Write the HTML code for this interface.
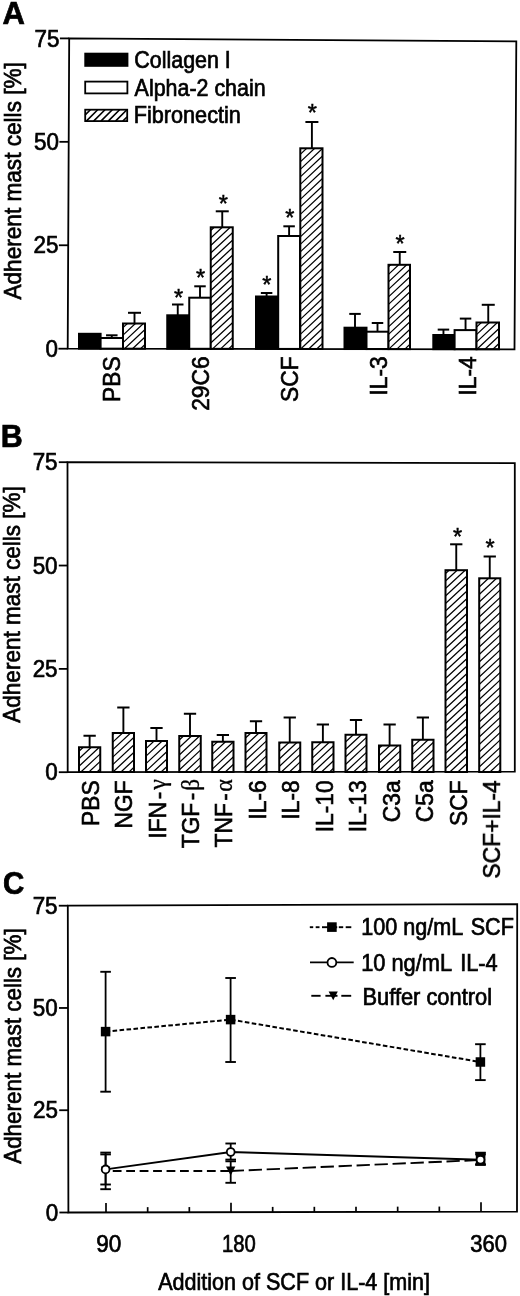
<!DOCTYPE html>
<html><head><meta charset="utf-8"><title>Figure</title>
<style>html,body{margin:0;padding:0;background:#fff}svg{display:block}text{font-family:"Liberation Sans",sans-serif;fill:#000;stroke:#000;stroke-width:0.7px}</style>
</head><body>
<svg width="520" height="1296" viewBox="0 0 520 1296">
<rect width="520" height="1296" fill="#fff"/>
<filter id="soft" x="0" y="0" width="520" height="1296" filterUnits="userSpaceOnUse"><feGaussianBlur stdDeviation="0.38"/></filter>
<g filter="url(#soft)">

<text transform="translate(2.40 24.20) scale(0.97 1)" font-size="31.95" text-anchor="start" font-weight="bold" >A</text>
<line x1="59.90" y1="38.40" x2="69.20" y2="38.40" stroke="#000" stroke-width="1.8" />
<text transform="translate(59.50 46.60) scale(0.94 1)" font-size="23.86" text-anchor="end" >75</text>
<line x1="59.40" y1="141.83" x2="68.70" y2="141.83" stroke="#000" stroke-width="1.8" />
<text transform="translate(59.00 150.03) scale(0.94 1)" font-size="23.86" text-anchor="end" >50</text>
<line x1="58.90" y1="245.27" x2="68.20" y2="245.27" stroke="#000" stroke-width="1.8" />
<text transform="translate(58.50 253.47) scale(0.94 1)" font-size="23.86" text-anchor="end" >25</text>
<line x1="58.40" y1="348.70" x2="67.70" y2="348.70" stroke="#000" stroke-width="1.8" />
<text transform="translate(58.00 356.90) scale(0.94 1)" font-size="23.86" text-anchor="end" >0</text>
<text transform="translate(20.70 299.60) rotate(-90)" font-size="24.31" text-anchor="start" textLength="237.5" lengthAdjust="spacingAndGlyphs" >Adherent mast cells [%]</text>
<rect x="84.3" y="52.7" width="44.1" height="14.1" fill="#000"/>
<rect x="85.2" y="81.6" width="42.2" height="11.8" fill="#fff" stroke="#000" stroke-width="1.8"/>
<rect x="85.2" y="109.7" width="42.0" height="11.4" fill="#fff" stroke="#000" stroke-width="1.8"/>
<path d="M85.20,114.90L90.40,109.70M86.30,121.10L97.70,109.70M93.60,121.10L105.00,109.70M100.90,121.10L112.30,109.70M108.20,121.10L119.60,109.70M115.50,121.10L126.90,109.70M122.80,121.10L127.20,116.70" stroke="#000" stroke-width="1.6" fill="none"/>
<text transform="translate(134.30 68.10)" font-size="23.43" text-anchor="start" textLength="96.5" lengthAdjust="spacingAndGlyphs" >Collagen I</text>
<text transform="translate(134.60 95.70)" font-size="23.43" text-anchor="start" textLength="131.0" lengthAdjust="spacingAndGlyphs" >Alpha-2 chain</text>
<text transform="translate(133.80 123.00)" font-size="23.43" text-anchor="start" textLength="107.0" lengthAdjust="spacingAndGlyphs" >Fibronectin</text>
<rect x="79.00" y="333.80" width="21.60" height="14.82" fill="#000" stroke="#000" stroke-width="2.0"/>
<line x1="111.80" y1="338.00" x2="111.80" y2="335.30" stroke="#000" stroke-width="1.9" />
<line x1="106.05" y1="335.30" x2="117.55" y2="335.30" stroke="#000" stroke-width="2.0" />
<rect x="100.60" y="338.00" width="22.40" height="10.65" fill="#fff" stroke="#000" stroke-width="2.0"/>
<line x1="134.50" y1="323.50" x2="134.50" y2="312.80" stroke="#000" stroke-width="1.9" />
<line x1="128.00" y1="312.80" x2="141.00" y2="312.80" stroke="#000" stroke-width="2.0" />
<rect x="123.00" y="323.50" width="22.00" height="25.19" fill="#fff" stroke="#000" stroke-width="2.0"/>
<path d="M123.00,327.60L127.38,323.50M123.00,335.10L135.40,323.50M123.00,342.60L143.42,323.50M124.51,348.69L145.00,329.52M132.53,348.69L145.00,337.02M140.55,348.69L145.00,344.52" stroke="#000" stroke-width="1.2" fill="none"/>
<line x1="177.75" y1="315.30" x2="177.75" y2="304.50" stroke="#000" stroke-width="1.9" />
<line x1="172.00" y1="304.50" x2="183.50" y2="304.50" stroke="#000" stroke-width="2.0" />
<rect x="167.25" y="315.30" width="22.00" height="33.46" fill="#000" stroke="#000" stroke-width="2.0"/>
<text x="178.60" y="305.50" font-size="23.5" text-anchor="middle" style="stroke-width:0.5px">*</text>
<line x1="200.00" y1="297.70" x2="200.00" y2="286.30" stroke="#000" stroke-width="1.9" />
<line x1="194.25" y1="286.30" x2="205.75" y2="286.30" stroke="#000" stroke-width="2.0" />
<rect x="189.25" y="297.70" width="21.50" height="51.09" fill="#fff" stroke="#000" stroke-width="2.0"/>
<text x="200.60" y="285.90" font-size="23.5" text-anchor="middle" style="stroke-width:0.5px">*</text>
<line x1="222.25" y1="227.30" x2="222.25" y2="211.30" stroke="#000" stroke-width="1.9" />
<line x1="215.75" y1="211.30" x2="228.75" y2="211.30" stroke="#000" stroke-width="2.0" />
<rect x="210.75" y="227.30" width="22.00" height="121.53" fill="#fff" stroke="#000" stroke-width="2.0"/>
<path d="M210.75,230.55L214.22,227.30M210.75,238.05L222.25,227.30M210.75,245.55L230.27,227.30M210.75,253.05L232.75,232.48M210.75,260.55L232.75,239.98M210.75,268.05L232.75,247.48M210.75,275.55L232.75,254.98M210.75,283.05L232.75,262.48M210.75,290.55L232.75,269.98M210.75,298.05L232.75,277.48M210.75,305.55L232.75,284.98M210.75,313.05L232.75,292.48M210.75,320.55L232.75,299.98M210.75,328.05L232.75,307.48M210.75,335.55L232.75,314.98M210.75,343.05L232.75,322.48M212.59,348.83L232.75,329.98M220.61,348.83L232.75,337.48M228.64,348.83L232.75,344.98" stroke="#000" stroke-width="1.2" fill="none"/>
<text x="223.40" y="211.50" font-size="23.5" text-anchor="middle" style="stroke-width:0.5px">*</text>
<line x1="266.60" y1="296.50" x2="266.60" y2="293.00" stroke="#000" stroke-width="1.9" />
<line x1="260.85" y1="293.00" x2="272.35" y2="293.00" stroke="#000" stroke-width="2.0" />
<rect x="256.00" y="296.50" width="22.20" height="52.39" fill="#000" stroke="#000" stroke-width="2.0"/>
<text x="266.90" y="292.60" font-size="23.5" text-anchor="middle" style="stroke-width:0.5px">*</text>
<line x1="289.10" y1="236.00" x2="289.10" y2="226.30" stroke="#000" stroke-width="1.9" />
<line x1="283.35" y1="226.30" x2="294.85" y2="226.30" stroke="#000" stroke-width="2.0" />
<rect x="278.20" y="236.00" width="21.80" height="112.93" fill="#fff" stroke="#000" stroke-width="2.0"/>
<text x="289.90" y="225.90" font-size="23.5" text-anchor="middle" style="stroke-width:0.5px">*</text>
<line x1="311.90" y1="148.30" x2="311.90" y2="122.00" stroke="#000" stroke-width="1.9" />
<line x1="305.40" y1="122.00" x2="318.40" y2="122.00" stroke="#000" stroke-width="2.0" />
<rect x="300.30" y="148.30" width="22.20" height="200.67" fill="#fff" stroke="#000" stroke-width="2.0"/>
<path d="M300.30,154.32L306.74,148.30M300.30,161.82L314.76,148.30M300.30,169.32L322.50,148.56M300.30,176.82L322.50,156.06M300.30,184.32L322.50,163.56M300.30,191.82L322.50,171.06M300.30,199.32L322.50,178.56M300.30,206.82L322.50,186.06M300.30,214.32L322.50,193.56M300.30,221.82L322.50,201.06M300.30,229.32L322.50,208.56M300.30,236.82L322.50,216.06M300.30,244.32L322.50,223.56M300.30,251.82L322.50,231.06M300.30,259.32L322.50,238.56M300.30,266.82L322.50,246.06M300.30,274.32L322.50,253.56M300.30,281.82L322.50,261.06M300.30,289.32L322.50,268.56M300.30,296.82L322.50,276.06M300.30,304.32L322.50,283.56M300.30,311.82L322.50,291.06M300.30,319.32L322.50,298.56M300.30,326.82L322.50,306.06M300.30,334.32L322.50,313.56M300.30,341.82L322.50,321.06M300.68,348.97L322.50,328.56M308.70,348.97L322.50,336.06M316.72,348.97L322.50,343.56" stroke="#000" stroke-width="1.2" fill="none"/>
<text x="312.40" y="121.30" font-size="23.5" text-anchor="middle" style="stroke-width:0.5px">*</text>
<line x1="355.00" y1="327.70" x2="355.00" y2="313.90" stroke="#000" stroke-width="1.9" />
<line x1="349.25" y1="313.90" x2="360.75" y2="313.90" stroke="#000" stroke-width="2.0" />
<rect x="344.50" y="327.70" width="22.00" height="21.33" fill="#000" stroke="#000" stroke-width="2.0"/>
<line x1="377.50" y1="331.70" x2="377.50" y2="323.00" stroke="#000" stroke-width="1.9" />
<line x1="371.75" y1="323.00" x2="383.25" y2="323.00" stroke="#000" stroke-width="2.0" />
<rect x="366.50" y="331.70" width="22.00" height="17.37" fill="#fff" stroke="#000" stroke-width="2.0"/>
<line x1="399.75" y1="264.80" x2="399.75" y2="252.00" stroke="#000" stroke-width="1.9" />
<line x1="393.25" y1="252.00" x2="406.25" y2="252.00" stroke="#000" stroke-width="2.0" />
<rect x="388.50" y="264.80" width="21.50" height="84.30" fill="#fff" stroke="#000" stroke-width="2.0"/>
<path d="M388.50,266.85L390.70,264.80M388.50,274.35L398.72,264.80M388.50,281.85L406.74,264.80M388.50,289.35L410.00,269.25M388.50,296.85L410.00,276.75M388.50,304.35L410.00,284.25M388.50,311.85L410.00,291.75M388.50,319.35L410.00,299.25M388.50,326.85L410.00,306.75M388.50,334.35L410.00,314.25M388.50,341.85L410.00,321.75M388.77,349.10L410.00,329.25M396.79,349.10L410.00,336.75M404.81,349.10L410.00,344.25" stroke="#000" stroke-width="1.2" fill="none"/>
<text x="400.20" y="252.10" font-size="23.5" text-anchor="middle" style="stroke-width:0.5px">*</text>
<line x1="443.45" y1="335.00" x2="443.45" y2="329.60" stroke="#000" stroke-width="1.9" />
<line x1="437.70" y1="329.60" x2="449.20" y2="329.60" stroke="#000" stroke-width="2.0" />
<rect x="433.30" y="335.00" width="21.30" height="14.17" fill="#000" stroke="#000" stroke-width="2.0"/>
<line x1="465.55" y1="330.10" x2="465.55" y2="318.60" stroke="#000" stroke-width="1.9" />
<line x1="459.80" y1="318.60" x2="471.30" y2="318.60" stroke="#000" stroke-width="2.0" />
<rect x="454.60" y="330.10" width="21.90" height="19.11" fill="#fff" stroke="#000" stroke-width="2.0"/>
<line x1="488.25" y1="322.50" x2="488.25" y2="304.80" stroke="#000" stroke-width="1.9" />
<line x1="481.75" y1="304.80" x2="494.75" y2="304.80" stroke="#000" stroke-width="2.0" />
<rect x="476.50" y="322.50" width="22.50" height="26.74" fill="#fff" stroke="#000" stroke-width="2.0"/>
<path d="M476.50,327.07L481.39,322.50M476.50,334.57L489.41,322.50M476.50,342.07L497.43,322.50M476.85,349.24L499.00,328.53M484.88,349.24L499.00,336.03M492.90,349.24L499.00,343.53" stroke="#000" stroke-width="1.2" fill="none"/>
<polygon points="69.20,38.40 516.30,41.40 514.50,349.30 67.70,348.70" fill="none" stroke="#000" stroke-width="1.8" stroke-linejoin="miter"/>
<text transform="translate(120.00 356.30) rotate(-90) scale(0.93 1)" font-size="24.53" text-anchor="end" style="stroke-width:0.65px">PBS</text>
<text transform="translate(208.80 356.30) rotate(-90) scale(0.93 1)" font-size="24.53" text-anchor="end" style="stroke-width:0.65px">29C6</text>
<text transform="translate(298.00 356.30) rotate(-90) scale(0.93 1)" font-size="24.53" text-anchor="end" style="stroke-width:0.65px">SCF</text>
<text transform="translate(386.80 356.30) rotate(-90) scale(0.93 1)" font-size="24.53" text-anchor="end" style="stroke-width:0.65px">IL-3</text>
<text transform="translate(475.60 356.30) rotate(-90) scale(0.93 1)" font-size="24.53" text-anchor="end" style="stroke-width:0.65px">IL-4</text>
<text transform="translate(0.80 447.30) scale(0.97 1)" font-size="31.42" text-anchor="start" font-weight="bold" >B</text>
<line x1="58.80" y1="462.20" x2="67.60" y2="462.20" stroke="#000" stroke-width="1.8" />
<text transform="translate(57.60 470.40) scale(0.94 1)" font-size="23.86" text-anchor="end" >75</text>
<line x1="58.80" y1="565.53" x2="67.60" y2="565.53" stroke="#000" stroke-width="1.8" />
<text transform="translate(57.60 573.73) scale(0.94 1)" font-size="23.86" text-anchor="end" >50</text>
<line x1="58.80" y1="668.87" x2="67.60" y2="668.87" stroke="#000" stroke-width="1.8" />
<text transform="translate(57.60 677.07) scale(0.94 1)" font-size="23.86" text-anchor="end" >25</text>
<line x1="58.80" y1="772.20" x2="67.60" y2="772.20" stroke="#000" stroke-width="1.8" />
<text transform="translate(57.60 780.40) scale(0.94 1)" font-size="23.86" text-anchor="end" >0</text>
<text transform="translate(20.00 722.70) rotate(-90)" font-size="24.31" text-anchor="start" textLength="236.5" lengthAdjust="spacingAndGlyphs" >Adherent mast cells [%]</text>
<line x1="89.62" y1="747.25" x2="89.62" y2="735.75" stroke="#000" stroke-width="1.9" />
<line x1="83.47" y1="735.75" x2="95.78" y2="735.75" stroke="#000" stroke-width="2.0" />
<rect x="79.00" y="747.25" width="21.25" height="24.75" fill="#fff" stroke="#000" stroke-width="2.0"/>
<path d="M79.00,751.24L83.26,747.25M79.00,758.74L91.28,747.25M79.00,766.24L99.30,747.25M80.86,772.00L100.25,753.87M88.88,772.00L100.25,761.37M96.90,772.00L100.25,768.87" stroke="#000" stroke-width="1.2" fill="none"/>
<line x1="123.38" y1="733.00" x2="123.38" y2="707.50" stroke="#000" stroke-width="1.9" />
<line x1="117.22" y1="707.50" x2="129.53" y2="707.50" stroke="#000" stroke-width="2.0" />
<rect x="112.75" y="733.00" width="21.25" height="39.00" fill="#fff" stroke="#000" stroke-width="2.0"/>
<path d="M112.75,734.68L114.55,733.00M112.75,742.18L122.57,733.00M112.75,749.68L130.59,733.00M112.75,757.18L134.00,737.31M112.75,764.68L134.00,744.81M112.94,772.00L134.00,752.31M120.96,772.00L134.00,759.81M128.98,772.00L134.00,767.31" stroke="#000" stroke-width="1.2" fill="none"/>
<line x1="156.50" y1="741.00" x2="156.50" y2="728.00" stroke="#000" stroke-width="1.9" />
<line x1="150.35" y1="728.00" x2="162.65" y2="728.00" stroke="#000" stroke-width="2.0" />
<rect x="146.00" y="741.00" width="21.00" height="31.00" fill="#fff" stroke="#000" stroke-width="2.0"/>
<path d="M146.00,748.59L154.12,741.00M146.00,756.09L162.14,741.00M146.00,763.59L167.00,743.96M146.00,771.09L167.00,751.46M153.05,772.00L167.00,758.96M161.07,772.00L167.00,766.46" stroke="#000" stroke-width="1.2" fill="none"/>
<line x1="190.00" y1="736.00" x2="190.00" y2="713.75" stroke="#000" stroke-width="1.9" />
<line x1="183.85" y1="713.75" x2="196.15" y2="713.75" stroke="#000" stroke-width="2.0" />
<rect x="179.25" y="736.00" width="21.50" height="36.00" fill="#fff" stroke="#000" stroke-width="2.0"/>
<path d="M179.25,740.00L183.53,736.00M179.25,747.50L191.55,736.00M179.25,755.00L199.57,736.00M179.25,762.50L200.75,742.40M179.25,770.00L200.75,749.90M185.13,772.00L200.75,757.40M193.16,772.00L200.75,764.90" stroke="#000" stroke-width="1.2" fill="none"/>
<line x1="222.88" y1="741.75" x2="222.88" y2="735.00" stroke="#000" stroke-width="1.9" />
<line x1="216.72" y1="735.00" x2="229.03" y2="735.00" stroke="#000" stroke-width="2.0" />
<rect x="212.25" y="741.75" width="21.25" height="30.25" fill="#fff" stroke="#000" stroke-width="2.0"/>
<path d="M212.25,746.65L217.49,741.75M212.25,754.15L225.51,741.75M212.25,761.65L233.50,741.78M212.25,769.15L233.50,749.28M217.22,772.00L233.50,756.78M225.24,772.00L233.50,764.28M233.26,772.00L233.50,771.78" stroke="#000" stroke-width="1.2" fill="none"/>
<line x1="256.00" y1="733.00" x2="256.00" y2="721.25" stroke="#000" stroke-width="1.9" />
<line x1="249.85" y1="721.25" x2="262.15" y2="721.25" stroke="#000" stroke-width="2.0" />
<rect x="245.50" y="733.00" width="21.00" height="39.00" fill="#fff" stroke="#000" stroke-width="2.0"/>
<path d="M245.50,738.06L250.91,733.00M245.50,745.56L258.93,733.00M245.50,753.06L266.50,733.42M245.50,760.56L266.50,740.92M245.50,768.06L266.50,748.42M249.30,772.00L266.50,755.92M257.33,772.00L266.50,763.42M265.35,772.00L266.50,770.92" stroke="#000" stroke-width="1.2" fill="none"/>
<line x1="289.75" y1="742.50" x2="289.75" y2="717.50" stroke="#000" stroke-width="1.9" />
<line x1="283.60" y1="717.50" x2="295.90" y2="717.50" stroke="#000" stroke-width="2.0" />
<rect x="279.25" y="742.50" width="21.00" height="29.50" fill="#fff" stroke="#000" stroke-width="2.0"/>
<path d="M279.25,744.00L280.86,742.50M279.25,751.50L288.88,742.50M279.25,759.00L296.90,742.50M279.25,766.50L300.25,746.87M281.39,772.00L300.25,754.37M289.41,772.00L300.25,761.87M297.43,772.00L300.25,769.37" stroke="#000" stroke-width="1.2" fill="none"/>
<line x1="322.88" y1="742.25" x2="322.88" y2="724.50" stroke="#000" stroke-width="1.9" />
<line x1="316.73" y1="724.50" x2="329.02" y2="724.50" stroke="#000" stroke-width="2.0" />
<rect x="312.25" y="742.25" width="21.25" height="29.75" fill="#fff" stroke="#000" stroke-width="2.0"/>
<path d="M312.25,743.15L313.21,742.25M312.25,750.65L321.23,742.25M312.25,758.15L329.25,742.25M312.25,765.65L333.50,745.78M313.48,772.00L333.50,753.28M321.50,772.00L333.50,760.78M329.52,772.00L333.50,768.28" stroke="#000" stroke-width="1.2" fill="none"/>
<line x1="356.00" y1="734.75" x2="356.00" y2="720.00" stroke="#000" stroke-width="1.9" />
<line x1="349.85" y1="720.00" x2="362.15" y2="720.00" stroke="#000" stroke-width="2.0" />
<rect x="345.50" y="734.75" width="21.00" height="37.25" fill="#fff" stroke="#000" stroke-width="2.0"/>
<path d="M345.50,742.06L353.32,734.75M345.50,749.56L361.34,734.75M345.50,757.06L366.50,737.42M345.50,764.56L366.50,744.92M345.56,772.00L366.50,752.42M353.58,772.00L366.50,759.92M361.60,772.00L366.50,767.42" stroke="#000" stroke-width="1.2" fill="none"/>
<line x1="389.62" y1="745.50" x2="389.62" y2="724.50" stroke="#000" stroke-width="1.9" />
<line x1="383.48" y1="724.50" x2="395.77" y2="724.50" stroke="#000" stroke-width="2.0" />
<rect x="379.00" y="745.50" width="21.25" height="26.50" fill="#fff" stroke="#000" stroke-width="2.0"/>
<path d="M379.00,748.23L381.93,745.50M379.00,755.73L389.95,745.50M379.00,763.23L397.97,745.50M379.00,770.73L400.25,750.87M385.67,772.00L400.25,758.37M393.69,772.00L400.25,765.87" stroke="#000" stroke-width="1.2" fill="none"/>
<line x1="422.88" y1="739.75" x2="422.88" y2="717.50" stroke="#000" stroke-width="1.9" />
<line x1="416.73" y1="717.50" x2="429.02" y2="717.50" stroke="#000" stroke-width="2.0" />
<rect x="412.25" y="739.75" width="21.25" height="32.25" fill="#fff" stroke="#000" stroke-width="2.0"/>
<path d="M412.25,747.15L420.16,739.75M412.25,754.65L428.18,739.75M412.25,762.15L433.50,742.28M412.25,769.65L433.50,749.78M417.75,772.00L433.50,757.28M425.78,772.00L433.50,764.78" stroke="#000" stroke-width="1.2" fill="none"/>
<line x1="456.25" y1="570.20" x2="456.25" y2="544.30" stroke="#000" stroke-width="1.9" />
<line x1="450.10" y1="544.30" x2="462.40" y2="544.30" stroke="#000" stroke-width="2.0" />
<rect x="445.50" y="570.20" width="21.50" height="201.80" fill="#fff" stroke="#000" stroke-width="2.0"/>
<path d="M445.50,573.56L449.09,570.20M445.50,581.06L457.11,570.20M445.50,588.56L465.13,570.20M445.50,596.06L467.00,575.95M445.50,603.56L467.00,583.45M445.50,611.06L467.00,590.95M445.50,618.56L467.00,598.45M445.50,626.06L467.00,605.95M445.50,633.56L467.00,613.45M445.50,641.06L467.00,620.95M445.50,648.56L467.00,628.45M445.50,656.06L467.00,635.95M445.50,663.56L467.00,643.45M445.50,671.06L467.00,650.95M445.50,678.56L467.00,658.45M445.50,686.06L467.00,665.95M445.50,693.56L467.00,673.45M445.50,701.06L467.00,680.95M445.50,708.56L467.00,688.45M445.50,716.06L467.00,695.95M445.50,723.56L467.00,703.45M445.50,731.06L467.00,710.95M445.50,738.56L467.00,718.45M445.50,746.06L467.00,725.95M445.50,753.56L467.00,733.45M445.50,761.06L467.00,740.95M445.50,768.56L467.00,748.45M449.84,772.00L467.00,755.95M457.86,772.00L467.00,763.45M465.88,772.00L467.00,770.95" stroke="#000" stroke-width="1.2" fill="none"/>
<text x="457.60" y="545.30" font-size="23.5" text-anchor="middle" style="stroke-width:0.5px">*</text>
<line x1="489.75" y1="578.30" x2="489.75" y2="556.50" stroke="#000" stroke-width="1.9" />
<line x1="483.60" y1="556.50" x2="495.90" y2="556.50" stroke="#000" stroke-width="2.0" />
<rect x="479.20" y="578.30" width="21.10" height="193.70" fill="#fff" stroke="#000" stroke-width="2.0"/>
<path d="M479.20,579.55L480.53,578.30M479.20,587.05L488.56,578.30M479.20,594.55L496.58,578.30M479.20,602.05L500.30,582.32M479.20,609.55L500.30,589.82M479.20,617.05L500.30,597.32M479.20,624.55L500.30,604.82M479.20,632.05L500.30,612.32M479.20,639.55L500.30,619.82M479.20,647.05L500.30,627.32M479.20,654.55L500.30,634.82M479.20,662.05L500.30,642.32M479.20,669.55L500.30,649.82M479.20,677.05L500.30,657.32M479.20,684.55L500.30,664.82M479.20,692.05L500.30,672.32M479.20,699.55L500.30,679.82M479.20,707.05L500.30,687.32M479.20,714.55L500.30,694.82M479.20,722.05L500.30,702.32M479.20,729.55L500.30,709.82M479.20,737.05L500.30,717.32M479.20,744.55L500.30,724.82M479.20,752.05L500.30,732.32M479.20,759.55L500.30,739.82M479.20,767.05L500.30,747.32M481.93,772.00L500.30,754.82M489.95,772.00L500.30,762.32M497.97,772.00L500.30,769.82" stroke="#000" stroke-width="1.2" fill="none"/>
<text x="490.20" y="555.70" font-size="23.5" text-anchor="middle" style="stroke-width:0.5px">*</text>
<polygon points="67.50,462.20 514.80,463.10 514.80,771.70 67.70,772.20" fill="none" stroke="#000" stroke-width="1.8" stroke-linejoin="miter"/>
<text transform="translate(98.60 780.30) rotate(-90) scale(0.93 1)" font-size="24.53" text-anchor="end" style="stroke-width:0.65px">PBS</text>
<text transform="translate(132.05 780.30) rotate(-90) scale(0.93 1)" font-size="24.53" text-anchor="end" style="stroke-width:0.65px">NGF</text>
<text transform="translate(165.50 779.00) rotate(-90) scale(0.93 1)" font-size="24.53" text-anchor="end" style="stroke-width:0.65px">IFN<tspan dx="2.6">-</tspan><tspan dx="2.2" style="font-family:'Liberation Serif','DejaVu Serif',serif;font-size:26px;stroke-width:0.3px">γ</tspan></text>
<text transform="translate(198.95 779.00) rotate(-90) scale(0.93 1)" font-size="24.53" text-anchor="end" style="stroke-width:0.65px">TGF<tspan dx="2.6">-</tspan><tspan dx="2.0" style="font-family:'Liberation Serif','DejaVu Serif',serif;font-size:25px;stroke-width:0.3px">β</tspan></text>
<text transform="translate(232.40 779.00) rotate(-90) scale(0.93 1)" font-size="24.53" text-anchor="end" style="stroke-width:0.65px">TNF<tspan dx="2.6">-</tspan><tspan dx="1.5" style="font-family:'Liberation Serif','DejaVu Serif',serif;font-size:26px;stroke-width:0.3px">α</tspan></text>
<text transform="translate(265.85 780.30) rotate(-90) scale(0.93 1)" font-size="24.53" text-anchor="end" style="stroke-width:0.65px">IL-6</text>
<text transform="translate(299.30 780.30) rotate(-90) scale(0.93 1)" font-size="24.53" text-anchor="end" style="stroke-width:0.65px">IL-8</text>
<text transform="translate(332.75 780.30) rotate(-90) scale(0.93 1)" font-size="24.53" text-anchor="end" style="stroke-width:0.65px">IL-10</text>
<text transform="translate(366.20 780.30) rotate(-90) scale(0.93 1)" font-size="24.53" text-anchor="end" style="stroke-width:0.65px">IL-13</text>
<text transform="translate(399.65 780.30) rotate(-90) scale(0.93 1)" font-size="24.53" text-anchor="end" style="stroke-width:0.65px">C3a</text>
<text transform="translate(433.10 780.30) rotate(-90) scale(0.93 1)" font-size="24.53" text-anchor="end" style="stroke-width:0.65px">C5a</text>
<text transform="translate(466.55 780.30) rotate(-90) scale(0.93 1)" font-size="24.53" text-anchor="end" style="stroke-width:0.65px">SCF</text>
<text transform="translate(500.00 780.30) rotate(-90) scale(0.93 1)" font-size="24.53" text-anchor="end" style="stroke-width:0.65px">SCF+IL-4</text>
<text transform="translate(3.00 894.30) scale(0.94 1)" font-size="31.42" text-anchor="start" font-weight="bold" >C</text>
<line x1="58.80" y1="905.70" x2="67.80" y2="905.70" stroke="#000" stroke-width="1.8" />
<text transform="translate(57.60 913.90) scale(0.94 1)" font-size="23.86" text-anchor="end" >75</text>
<line x1="59.00" y1="1007.97" x2="68.00" y2="1007.97" stroke="#000" stroke-width="1.8" />
<text transform="translate(57.80 1016.17) scale(0.94 1)" font-size="23.86" text-anchor="end" >50</text>
<line x1="59.20" y1="1110.23" x2="68.20" y2="1110.23" stroke="#000" stroke-width="1.8" />
<text transform="translate(58.00 1118.43) scale(0.94 1)" font-size="23.86" text-anchor="end" >25</text>
<line x1="59.40" y1="1212.50" x2="68.40" y2="1212.50" stroke="#000" stroke-width="1.8" />
<text transform="translate(58.20 1220.70) scale(0.94 1)" font-size="23.86" text-anchor="end" >0</text>
<text transform="translate(20.70 1163.80) rotate(-90)" font-size="24.31" text-anchor="start" textLength="235.5" lengthAdjust="spacingAndGlyphs" >Adherent mast cells [%]</text>
<line x1="106.00" y1="1212.42" x2="106.00" y2="1202.92" stroke="#000" stroke-width="1.7" />
<line x1="147.67" y1="1212.34" x2="147.67" y2="1207.14" stroke="#000" stroke-width="1.7" />
<line x1="189.33" y1="1212.26" x2="189.33" y2="1207.06" stroke="#000" stroke-width="1.7" />
<line x1="231.00" y1="1212.17" x2="231.00" y2="1202.67" stroke="#000" stroke-width="1.7" />
<line x1="272.67" y1="1212.09" x2="272.67" y2="1206.89" stroke="#000" stroke-width="1.7" />
<line x1="314.33" y1="1212.01" x2="314.33" y2="1206.81" stroke="#000" stroke-width="1.7" />
<line x1="356.00" y1="1211.92" x2="356.00" y2="1206.72" stroke="#000" stroke-width="1.7" />
<line x1="397.67" y1="1211.84" x2="397.67" y2="1206.64" stroke="#000" stroke-width="1.7" />
<line x1="439.33" y1="1211.76" x2="439.33" y2="1206.56" stroke="#000" stroke-width="1.7" />
<line x1="481.00" y1="1211.67" x2="481.00" y2="1202.17" stroke="#000" stroke-width="1.7" />
<text transform="translate(96.20 1252.00) scale(0.94 1)" font-size="23.96" text-anchor="start" >90</text>
<text transform="translate(222.00 1252.00) scale(0.845 1)" font-size="23.96" text-anchor="start" >180</text>
<text transform="translate(470.30 1252.00) scale(0.92 1)" font-size="23.96" text-anchor="start" >360</text>
<text transform="translate(158.20 1290.00)" font-size="23.96" text-anchor="start" textLength="271.8" lengthAdjust="spacingAndGlyphs" >Addition of SCF or IL-4 [min]</text>
<line x1="105.60" y1="971.80" x2="105.60" y2="1091.70" stroke="#000" stroke-width="1.8" />
<line x1="100.30" y1="971.80" x2="110.90" y2="971.80" stroke="#000" stroke-width="1.9" />
<line x1="100.30" y1="1091.70" x2="110.90" y2="1091.70" stroke="#000" stroke-width="1.9" />
<line x1="230.60" y1="978.00" x2="230.60" y2="1062.00" stroke="#000" stroke-width="1.8" />
<line x1="225.30" y1="978.00" x2="235.90" y2="978.00" stroke="#000" stroke-width="1.9" />
<line x1="225.30" y1="1062.00" x2="235.90" y2="1062.00" stroke="#000" stroke-width="1.9" />
<line x1="480.40" y1="1044.20" x2="480.40" y2="1080.10" stroke="#000" stroke-width="1.8" />
<line x1="475.10" y1="1044.20" x2="485.70" y2="1044.20" stroke="#000" stroke-width="1.9" />
<line x1="475.10" y1="1080.10" x2="485.70" y2="1080.10" stroke="#000" stroke-width="1.9" />
<line x1="105.60" y1="1154.40" x2="105.60" y2="1189.20" stroke="#000" stroke-width="1.8" />
<line x1="100.30" y1="1154.40" x2="110.90" y2="1154.40" stroke="#000" stroke-width="1.9" />
<line x1="100.30" y1="1189.20" x2="110.90" y2="1189.20" stroke="#000" stroke-width="1.9" />
<line x1="230.70" y1="1161.30" x2="230.70" y2="1182.80" stroke="#000" stroke-width="1.8" />
<line x1="225.40" y1="1161.30" x2="236.00" y2="1161.30" stroke="#000" stroke-width="1.9" />
<line x1="225.40" y1="1182.80" x2="236.00" y2="1182.80" stroke="#000" stroke-width="1.9" />
<line x1="480.50" y1="1154.40" x2="480.50" y2="1164.90" stroke="#000" stroke-width="1.8" />
<line x1="475.20" y1="1154.40" x2="485.80" y2="1154.40" stroke="#000" stroke-width="1.9" />
<line x1="475.20" y1="1164.90" x2="485.80" y2="1164.90" stroke="#000" stroke-width="1.9" />
<line x1="105.60" y1="1152.60" x2="105.60" y2="1184.50" stroke="#000" stroke-width="1.8" />
<line x1="100.30" y1="1152.60" x2="110.90" y2="1152.60" stroke="#000" stroke-width="1.9" />
<line x1="100.30" y1="1184.50" x2="110.90" y2="1184.50" stroke="#000" stroke-width="1.9" />
<line x1="230.70" y1="1143.50" x2="230.70" y2="1159.60" stroke="#000" stroke-width="1.8" />
<line x1="225.40" y1="1143.50" x2="236.00" y2="1143.50" stroke="#000" stroke-width="1.9" />
<line x1="225.40" y1="1159.60" x2="236.00" y2="1159.60" stroke="#000" stroke-width="1.9" />
<line x1="480.50" y1="1152.70" x2="480.50" y2="1164.20" stroke="#000" stroke-width="1.8" />
<line x1="475.20" y1="1152.70" x2="485.80" y2="1152.70" stroke="#000" stroke-width="1.9" />
<line x1="475.20" y1="1164.20" x2="485.80" y2="1164.20" stroke="#000" stroke-width="1.9" />
<polyline points="105.60,1031.60 230.60,1019.60 480.40,1062.00" fill="none" stroke="#000" stroke-width="2.0" stroke-dasharray="4.6 2.4"/>
<polyline points="105.60,1171.00 230.70,1171.00" fill="none" stroke="#000" stroke-width="1.9" stroke-dasharray="8.8 4.65" stroke-dashoffset="6.3"/>
<polyline points="230.70,1171.00 480.50,1160.00" fill="none" stroke="#000" stroke-width="1.9" stroke-dasharray="13.3 4.7"/>
<polyline points="105.60,1169.40 230.70,1152.00 480.50,1159.80" fill="none" stroke="#000" stroke-width="1.9"/>
<rect x="100.85" y="1026.85" width="9.5" height="9.5" fill="#000"/>
<rect x="225.85" y="1014.85" width="9.5" height="9.5" fill="#000"/>
<rect x="475.65" y="1057.25" width="9.5" height="9.5" fill="#000"/>
<polygon points="100.90,1166.60 110.30,1166.60 105.60,1175.40" fill="#000"/>
<polygon points="226.00,1166.60 235.40,1166.60 230.70,1175.40" fill="#000"/>
<polygon points="475.80,1155.60 485.20,1155.60 480.50,1164.40" fill="#000"/>
<rect x="475.8" y="1152" width="9.6" height="13.4" fill="#000"/>
<circle cx="105.60" cy="1169.40" r="3.9" fill="#fff" stroke="#000" stroke-width="1.8"/>
<circle cx="230.70" cy="1152.00" r="3.9" fill="#fff" stroke="#000" stroke-width="1.8"/>
<circle cx="480.50" cy="1159.80" r="3.9" fill="#fff" stroke="#000" stroke-width="1.8"/>
<line x1="309.80" y1="927.20" x2="313.20" y2="927.20" stroke="#000" stroke-width="1.9" />
<line x1="315.70" y1="927.20" x2="319.50" y2="927.20" stroke="#000" stroke-width="1.9" />
<line x1="322.00" y1="927.20" x2="328.00" y2="927.20" stroke="#000" stroke-width="1.9" />
<line x1="336.00" y1="927.20" x2="337.20" y2="927.20" stroke="#000" stroke-width="1.9" />
<line x1="338.80" y1="927.20" x2="343.20" y2="927.20" stroke="#000" stroke-width="1.9" />
<line x1="345.70" y1="927.20" x2="351.30" y2="927.20" stroke="#000" stroke-width="1.9" />
<rect x="327.10" y="922.30" width="9.6" height="9.6" fill="#000"/>
<line x1="310.00" y1="962.40" x2="353.70" y2="962.40" stroke="#000" stroke-width="1.8" />
<circle cx="331.90" cy="962.40" r="4.4" fill="#fff" stroke="#000" stroke-width="1.8"/>
<line x1="311.30" y1="995.80" x2="320.60" y2="995.80" stroke="#000" stroke-width="1.9" />
<line x1="325.40" y1="995.80" x2="337.50" y2="995.80" stroke="#000" stroke-width="1.9" />
<line x1="341.30" y1="995.80" x2="351.20" y2="995.80" stroke="#000" stroke-width="1.9" />
<polygon points="328.60,991.40 337.80,991.40 333.20,1000.20" fill="#000"/>
<text transform="translate(361.20 935.30)" font-size="23.43" text-anchor="start" textLength="152.7" lengthAdjust="spacingAndGlyphs" >100 ng/mL<tspan dx="2.5"> SCF</tspan></text>
<text transform="translate(361.20 970.60)" font-size="23.43" text-anchor="start" textLength="136.5" lengthAdjust="spacingAndGlyphs" >10 ng/mL<tspan dx="3"> IL-4</tspan></text>
<text transform="translate(362.50 1004.50)" font-size="23.43" text-anchor="start" textLength="129.5" lengthAdjust="spacingAndGlyphs" >Buffer control</text>
<polygon points="67.80,905.70 517.20,904.10 517.00,1211.60 68.40,1212.50" fill="none" stroke="#000" stroke-width="1.8" stroke-linejoin="miter"/>
</g></svg></body></html>
